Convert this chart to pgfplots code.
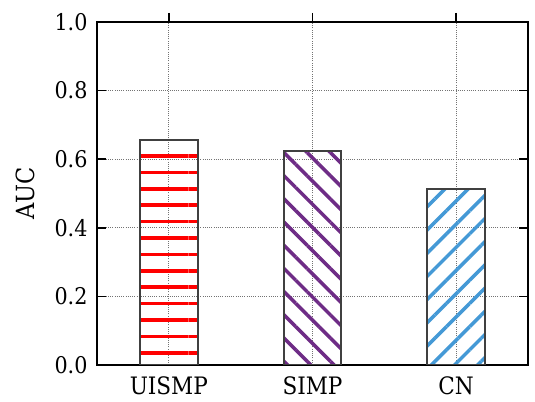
\documentclass[border=0pt]{standalone}
\usepackage{fontspec}
\setmainfont{DejaVu Serif Condensed}
\usepackage{pgfplots}
\pgfplotsset{compat=1.18}
\usetikzlibrary{patterns.meta}
\definecolor{barpurple}{HTML}{6E2C86}
\definecolor{barblue}{HTML}{4499D6}
\definecolor{edgegray}{HTML}{404040}
\begin{document}
\begin{tikzpicture}
\path[use as bounding box] (-97bp,-37bp) rectangle (438bp,365bp);
\begin{axis}[
  anchor=south west, at={(0,0)},
  scale only axis, width=431bp, height=343bp,
  xmin=-0.5, xmax=2.5, ymin=0, ymax=1.0,
  xtick={0,1,2}, xticklabels={UISMP,SIMP,CN},
  ytick={0,0.2,0.4,0.6,0.8,1.0},
  /pgf/number format/assume math mode=true,
  /pgf/number format/fixed, /pgf/number format/fixed zerofill, /pgf/number format/precision=1,
  xtick pos=right, xticklabel pos=left,
  ytick pos=both, yticklabel pos=left,
  tick align=inside, major tick length=9bp,
  every tick/.style={black, line width=1.5bp},
  axis line style={black, line width=2bp},
  ymajorgrids, xmajorgrids,
  grid style={black!55, line width=1bp, dash pattern=on 1bp off 1.2bp},
  yticklabel style={font=\fontsize{23bp}{26bp}\selectfont, xshift=-6bp},
  xticklabel style={font=\fontsize{24bp}{26bp}\selectfont, yshift=0bp, inner sep=2bp},
  ylabel={AUC},
  ylabel style={font=\fontsize{25bp}{28bp}\selectfont, at={(axis description cs:-0.167,0.5)}, anchor=center},
  ybar, bar width=0.4,
]
\addplot[bar shift=0, draw=edgegray, line width=2bp, pattern={Lines[angle=0,distance=16.4bp,line width=3.5bp]}, pattern color=red] coordinates {(0,0.655)};
\addplot[bar shift=0, draw=edgegray, line width=2bp, pattern={Lines[angle=-45,distance=16.4bp,line width=3.5bp]}, pattern color=barpurple] coordinates {(1,0.623)};
\addplot[bar shift=0, draw=edgegray, line width=2bp, pattern={Lines[angle=45,distance=16.4bp,line width=3.5bp]}, pattern color=barblue] coordinates {(2,0.513)};
\end{axis}
\end{tikzpicture}
\end{document}
